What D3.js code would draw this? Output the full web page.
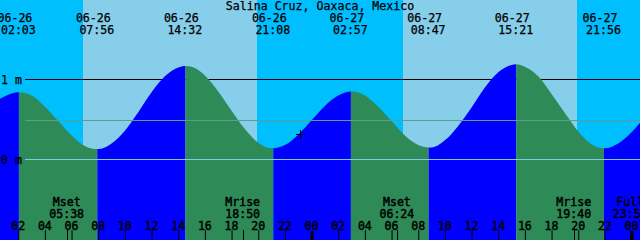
<!DOCTYPE html>
<html>
<head>
<meta charset="utf-8">
<script src="https://cdn.jsdelivr.net/npm/d3@7"></script>
<style>
body { margin: 0; background: #fff; }
svg { display: block; font-family: "DejaVu Sans Mono", monospace; font-size: 11.6px; }
svg text { fill: #000; stroke: #000; stroke-width: 0.25px; }
svg .low text { stroke-width: 0.45px; }
</style>
</head>
<body>
<svg id="chart" width="640" height="240"></svg>
<script>
/*************************************************************************/

const title = "Salina Cruz, Oaxaca, Mexico";
const timeSpan = ["06-26 00:38", "06-28 00:38"];

// high and low waters
const extremaTimes = ["06-26 02:03", "06-26 07:56", "06-26 14:32", "06-26 21:08",
                      "06-27 02:57", "06-27 08:47", "06-27 15:21", "06-27 21:56"];
const extremaHeights = [0.84, 0.13, 1.17, 0.14, 0.85, 0.15, 1.19, 0.14];

// heights every hour, 06-26 01:00 ... 06-28 00:00
const hourlyStart = "06-26 01:00";
const hourlyHeights = [0.79, 0.84, 0.80, 0.66, 0.48, 0.30, 0.17, 0.13, 0.20, 0.36, 0.59, 0.84,
                       1.04, 1.15, 1.16, 1.05, 0.85, 0.61, 0.38, 0.21, 0.14, 0.18, 0.31, 0.49,
                       0.67, 0.80, 0.85, 0.80, 0.66, 0.48, 0.30, 0.18, 0.15, 0.24, 0.42, 0.65,
                       0.90, 1.09, 1.18, 1.16, 1.04, 0.82, 0.58, 0.35, 0.19, 0.14, 0.20, 0.34];
const edgeHeights = [0.76, 0.46];

const sunriseTimes = ["06-26 06:50", "06-27 06:50"];
const sunsetTimes = ["06-26 19:53", "06-27 19:53"];

const moonTimes = ["06-26 05:38", "06-26 18:50", "06-27 06:24", "06-27 19:40", "06-27 23:54"];
const moonNames = ["Mset", "Mrise", "Mset", "Mrise", "Full"];

const levelValues = [1, 0];
const levelLabels = ["1 m", "0 m"];
const meanLevel = 0.49;

const markTime = "06-26 23:08";
const markHeight = 0.32;

/*************************************************************************/

const W = 640, H = 240;
const parse = d3.timeParse("%m-%d %H:%M");
const fmtDate = d3.timeFormat("%m-%d");
const fmtTime = d3.timeFormat("%H:%M");
const fmtHour = d3.timeFormat("%H");

const x = d3.scaleTime().domain(timeSpan.map(parse)).range([0, W]);
const y = d3.scaleLinear().domain([0, 1]).range([159.5, 79.5]);

const svg = d3.select('#chart');

// sky: night everywhere, day between sunrise and sunset
svg.append("rect")
    .attr("width", W).attr("height", H)
    .attr("fill", "#00bfff");

svg.append("g")
    .selectAll("rect")
    .data(sunriseTimes.map((d, i) => [parse(d), parse(sunsetTimes[i])]))
    .enter().append("rect")
    .attr("x", d => x(d[0]))
    .attr("width", d => x(d[1]) - x(d[0]))
    .attr("height", H)
    .attr("fill", "#87ceeb")
    .attr("shape-rendering", "crispEdges");

// 1 m line sits behind the water
svg.append("line")
    .attr("x1", 25).attr("x2", W)
    .attr("y1", y(1)).attr("y2", y(1))
    .attr("stroke", "black");

/*************************************************************************/

const extrema = extremaTimes.map((d, i) => ({ t: parse(d), h: extremaHeights[i] }));
const hour0 = parse(hourlyStart);
const samples = hourlyHeights.map((h, i) => ({ t: d3.timeHour.offset(hour0, i), h: h }))
    .concat(extrema)
    .concat(timeSpan.map((d, i) => ({ t: parse(d), h: edgeHeights[i] })))
    .sort((a, b) => a.t - b.t);

const area = d3.area()
    .x(d => x(d.t))
    .y0(H)
    .y1(d => y(d.h))
    .curve(d3.curveMonotoneX);

svg.append("clipPath").attr("id", "water")
    .append("path")
    .attr("d", area(samples));

// rising = blue, falling = green
const bounds = [{ t: parse(timeSpan[0]), h: edgeHeights[0] }]
    .concat(extrema)
    .concat([{ t: parse(timeSpan[1]), h: edgeHeights[1] }]);

svg.append("g")
    .attr("clip-path", "url(#water)")
    .selectAll("rect")
    .data(d3.pairs(bounds))
    .enter().append("rect")
    .attr("x", d => x(d[0].t))
    .attr("width", d => x(d[1].t) - x(d[0].t))
    .attr("height", H)
    .attr("fill", d => d[1].h > d[0].h ? "#0000ff" : "#2e8b57");

// mean level and datum lines over the water
const ym = Math.floor(y(meanLevel)) + 0.5;
svg.append("line")
    .attr("x1", 25).attr("x2", W)
    .attr("y1", ym).attr("y2", ym)
    .attr("stroke", "#5ba08c");

svg.append("line")
    .attr("x1", 25).attr("x2", W)
    .attr("y1", y(0)).attr("y2", y(0))
    .attr("stroke", "#84cbea");

svg.append("g")
    .selectAll("text")
    .data(levelValues)
    .enter().append("text")
    .attr("x", 1)
    .attr("y", d => y(d) + 4)
    .text((d, i) => levelLabels[i]);

/*************************************************************************/

svg.append("text")
    .attr("x", W / 2).attr("y", 10)
    .attr("text-anchor", "middle")
    .text(title);

const tops = svg.append("g")
    .attr("text-anchor", "middle")
    .selectAll("g")
    .data(extrema)
    .enter().append("g");

tops.append("text")
    .attr("x", d => x(d.t) - 4)
    .attr("y", 22)
    .text(d => fmtDate(d.t));

tops.append("text")
    .attr("x", d => x(d.t) - 0.5)
    .attr("y", 33.5)
    .text(d => fmtTime(d.t));

// moon events
const moons = svg.append("g")
    .attr("class", "low")
    .attr("text-anchor", "middle")
    .selectAll("g")
    .data(moonTimes.map((d, i) => ({ t: parse(d), name: moonNames[i] })))
    .enter().append("g");

moons.append("text")
    .attr("x", d => x(d.t))
    .attr("y", 206)
    .text(d => d.name);

moons.append("text")
    .attr("x", d => x(d.t))
    .attr("y", 218)
    .text(d => fmtTime(d.t));

moons.append("line")
    .attr("x1", d => Math.round(x(d.t)) + 0.5)
    .attr("x2", d => Math.round(x(d.t)) + 0.5)
    .attr("y1", 230).attr("y2", H)
    .attr("stroke", "black");

// hour axis along the bottom: ticks from the axis, labels drawn on top
const hours = x.ticks(d3.timeHour.every(2));

const axis = svg.append("g")
    .attr("transform", `translate(0,${H})`)
    .call(d3.axisTop(x)
        .tickValues(hours)
        .tickFormat("")
        .tickSize(10));

axis.select(".domain").remove();
axis.selectAll(".tick line").attr("stroke", "black");
axis.selectAll(".tick")
    .filter(d => d.getHours() == 0)
    .select("line")
    .attr("stroke-width", 3)
    .attr("y2", -9);

svg.append("g")
    .attr("class", "low")
    .attr("text-anchor", "middle")
    .selectAll("text")
    .data(hours)
    .enter().append("text")
    .attr("x", d => x(d))
    .attr("y", 230)
    .text(d => fmtHour(d));

// current time cross
const mx = Math.round(x(parse(markTime))) + 0.5;
const my = Math.round(y(markHeight)) + 0.5;
svg.append("path")
    .attr("d", `M${mx - 4.5},${my}H${mx + 4.5}M${mx},${my - 4.5}V${my + 4.5}`)
    .attr("stroke", "black");

/*************************************************************************/
</script>
</body>
</html>
